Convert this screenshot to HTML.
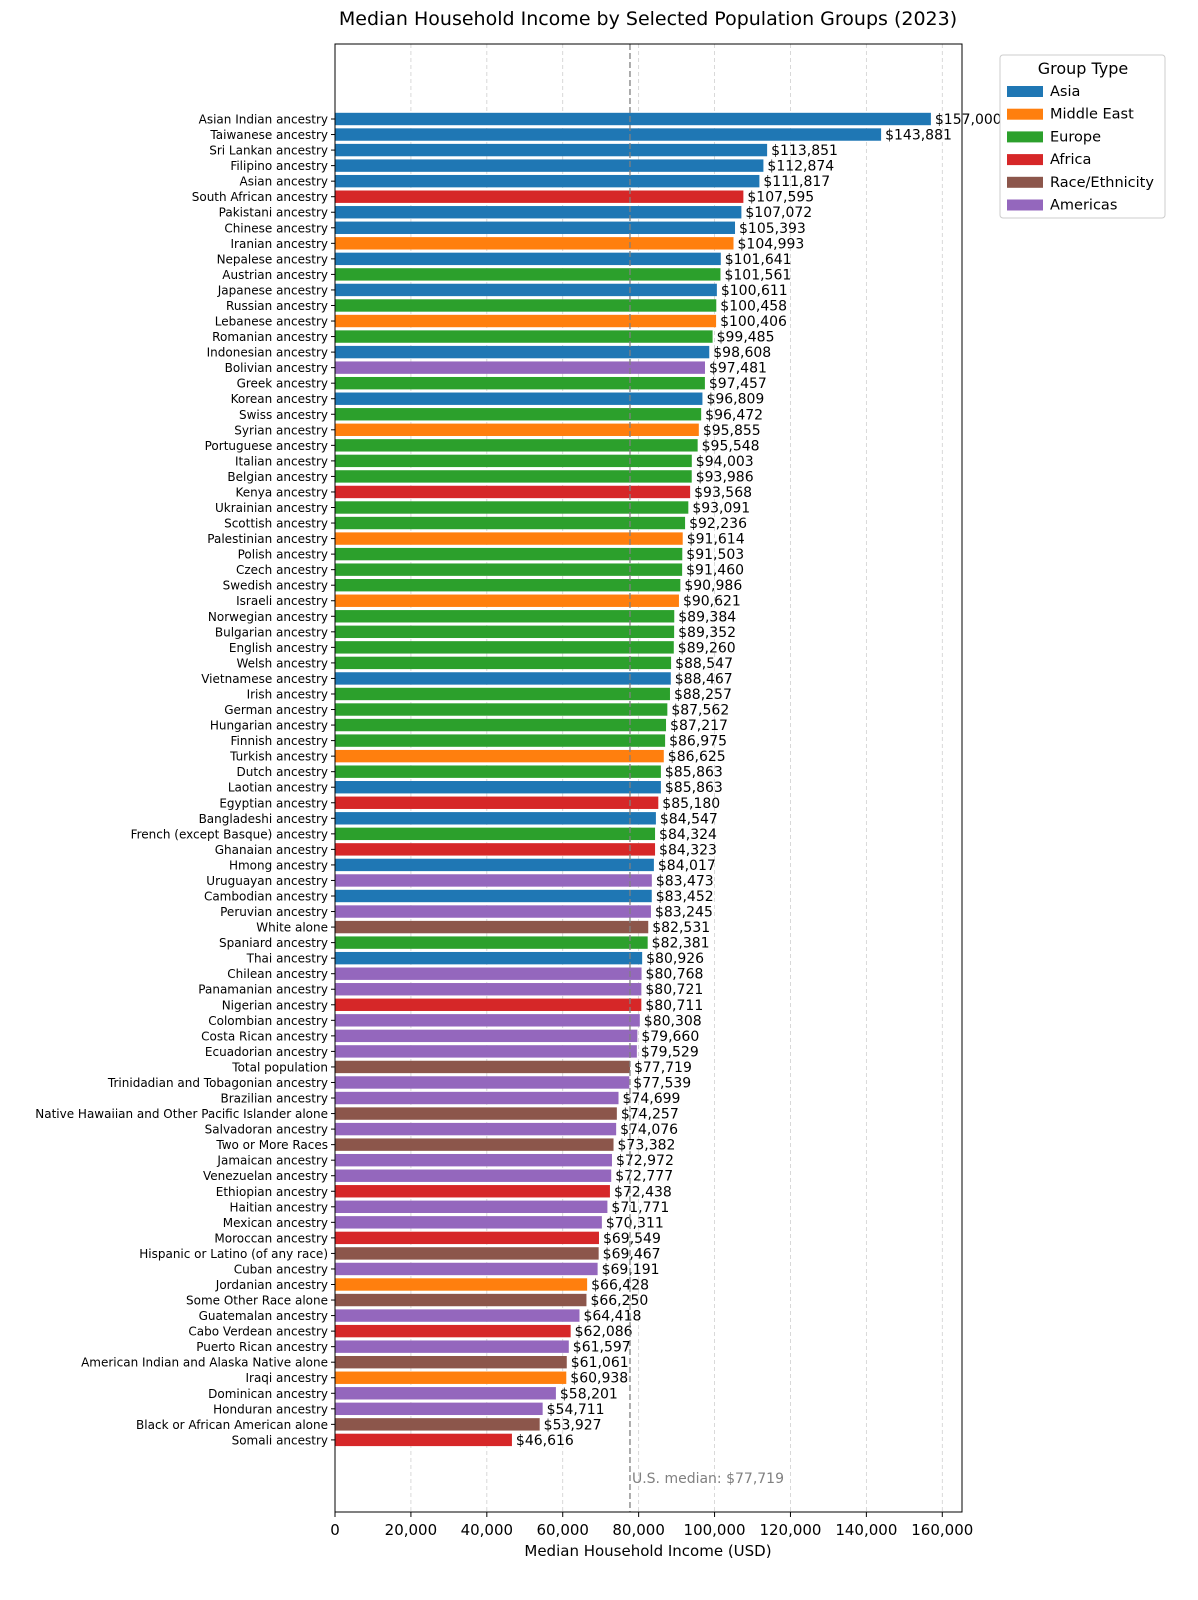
<!DOCTYPE html>
<html><head><meta charset="utf-8"><style>
body{margin:0;background:#fff;}
svg{display:block;font-family:"DejaVu Sans","Liberation Sans",sans-serif;}
</style></head><body>
<svg id="chart" width="1198" height="1600" viewBox="0 0 1198 1600">
<text x="648" y="25" font-size="19" text-anchor="middle" fill="#000">Median Household Income by Selected Population Groups (2023)</text>
<g id="grid"></g><g id="bars"></g><g id="labels"></g><g id="ticks"></g>
<rect x="335" y="44" width="627" height="1468" fill="none" stroke="#000" stroke-width="1"/>
<text x="648" y="1556" font-size="15" text-anchor="middle">Median Household Income (USD)</text>
<g id="legend"></g>
</svg>
<script>
const categories=["Asian Indian ancestry","Taiwanese ancestry","Sri Lankan ancestry","Filipino ancestry","Asian ancestry","South African ancestry","Pakistani ancestry","Chinese ancestry","Iranian ancestry","Nepalese ancestry","Austrian ancestry","Japanese ancestry","Russian ancestry","Lebanese ancestry","Romanian ancestry","Indonesian ancestry","Bolivian ancestry","Greek ancestry","Korean ancestry","Swiss ancestry","Syrian ancestry","Portuguese ancestry","Italian ancestry","Belgian ancestry","Kenya ancestry","Ukrainian ancestry","Scottish ancestry","Palestinian ancestry","Polish ancestry","Czech ancestry","Swedish ancestry","Israeli ancestry","Norwegian ancestry","Bulgarian ancestry","English ancestry","Welsh ancestry","Vietnamese ancestry","Irish ancestry","German ancestry","Hungarian ancestry","Finnish ancestry","Turkish ancestry","Dutch ancestry","Laotian ancestry","Egyptian ancestry","Bangladeshi ancestry","French (except Basque) ancestry","Ghanaian ancestry","Hmong ancestry","Uruguayan ancestry","Cambodian ancestry","Peruvian ancestry","White alone","Spaniard ancestry","Thai ancestry","Chilean ancestry","Panamanian ancestry","Nigerian ancestry","Colombian ancestry","Costa Rican ancestry","Ecuadorian ancestry","Total population","Trinidadian and Tobagonian ancestry","Brazilian ancestry","Native Hawaiian and Other Pacific Islander alone","Salvadoran ancestry","Two or More Races","Jamaican ancestry","Venezuelan ancestry","Ethiopian ancestry","Haitian ancestry","Mexican ancestry","Moroccan ancestry","Hispanic or Latino (of any race)","Cuban ancestry","Jordanian ancestry","Some Other Race alone","Guatemalan ancestry","Cabo Verdean ancestry","Puerto Rican ancestry","American Indian and Alaska Native alone","Iraqi ancestry","Dominican ancestry","Honduran ancestry","Black or African American alone","Somali ancestry"];
const values=[157000,143881,113851,112874,111817,107595,107072,105393,104993,101641,101561,100611,100458,100406,99485,98608,97481,97457,96809,96472,95855,95548,94003,93986,93568,93091,92236,91614,91503,91460,90986,90621,89384,89352,89260,88547,88467,88257,87562,87217,86975,86625,85863,85863,85180,84547,84324,84323,84017,83473,83452,83245,82531,82381,80926,80768,80721,80711,80308,79660,79529,77719,77539,74699,74257,74076,73382,72972,72777,72438,71771,70311,69549,69467,69191,66428,66250,64418,62086,61597,61061,60938,58201,54711,53927,46616];
const groups=["A","A","A","A","A","F","A","A","M","A","E","A","E","M","E","A","J","E","A","E","M","E","E","E","F","E","E","M","E","E","E","M","E","E","E","E","A","E","E","E","E","M","E","A","F","A","E","F","A","J","A","J","R","E","A","J","J","F","J","J","J","R","J","J","R","J","R","J","J","F","J","J","F","R","J","M","R","J","F","J","R","M","J","J","R","F"];
const groupNames=["Asia","Middle East","Europe","Africa","Race/Ethnicity","Americas"];
const groupCodes=["A","M","E","F","R","J"];
const groupColors=["#1f77b4","#ff7f0e","#2ca02c","#d62728","#8c564b","#9467bd"];
const xTicks=[0,20000,40000,60000,80000,100000,120000,140000,160000];
const usMedian=77719;
const NS="http://www.w3.org/2000/svg";
const x0=335,xk=0.0037955,y0=119,dy=15.54,bh=12.4;
const X=v=>x0+v*xk, Y=i=>y0+i*dy;
function mk(tag,attrs,parent,txt){const e=document.createElementNS(NS,tag);for(const k in attrs)e.setAttribute(k,attrs[k]);if(txt!==undefined)e.textContent=txt;parent.appendChild(e);return e;}
const grid=document.getElementById('grid'),bars=document.getElementById('bars'),labels=document.getElementById('labels'),ticks=document.getElementById('ticks'),legend=document.getElementById('legend');
xTicks.forEach(t=>{
 const g=mk('line',{x1:X(t),x2:X(t),y1:44,y2:1512,stroke:'#b0b0b0','stroke-width':0.8,'stroke-dasharray':'4,3',opacity:0.6},grid);
 
 
 const tm=mk('line',{x1:X(t),x2:X(t),y1:1512,y2:1517,stroke:'#000'},ticks);
 
 
 const tl=mk('text',{x:X(t),y:1535,'font-size':15,'text-anchor':'middle'},ticks,t.toLocaleString('en-US'));
 
 
});
categories.forEach((c,i)=>{
 const col=groupColors[groupCodes.indexOf(groups[i])];
 const r=mk('rect',{x:x0,y:Y(i)-bh/2,width:values[i]*xk,height:bh,fill:col},bars);
 
 
 const cl=mk('text',{x:328,y:Y(i)+4.5,'font-size':12,'text-anchor':'end'},labels,c);
 
 
 const tk=mk('line',{x1:331,x2:335,y1:Y(i),y2:Y(i),stroke:'#000'},ticks);
 
 
 const vl=mk('text',{x:X(values[i])+4,y:Y(i)+5,'font-size':14},labels,'$'+values[i].toLocaleString('en-US'));
 
 
});
const ml=mk('line',{x1:X(usMedian),x2:X(usMedian),y1:44,y2:1512,stroke:'#808080','stroke-width':1.3,'stroke-dasharray':'6,3'},labels);


const mt=mk('text',{x:X(usMedian)+2,y:1483,'font-size':14,fill:'#808080'},labels,'U.S. median: $'+usMedian.toLocaleString('en-US'));


const lb=mk('rect',{x:1000,y:55,width:165,height:163,rx:3,fill:'#fff',stroke:'#cccccc','fill-opacity':0.9},legend);


const lt=mk('text',{x:1083,y:74,'font-size':16,'text-anchor':'middle'},legend,'Group Type');


groupNames.forEach((n,i)=>{
 const y=91+i*22.7;
 const p=mk('rect',{x:1007,y:y-5,width:36,height:11,fill:groupColors[i]},legend);
 
 
 const t=mk('text',{x:1050,y:y+5,'font-size':14.5},legend,n);
 
 
});
</script>
</body></html>
